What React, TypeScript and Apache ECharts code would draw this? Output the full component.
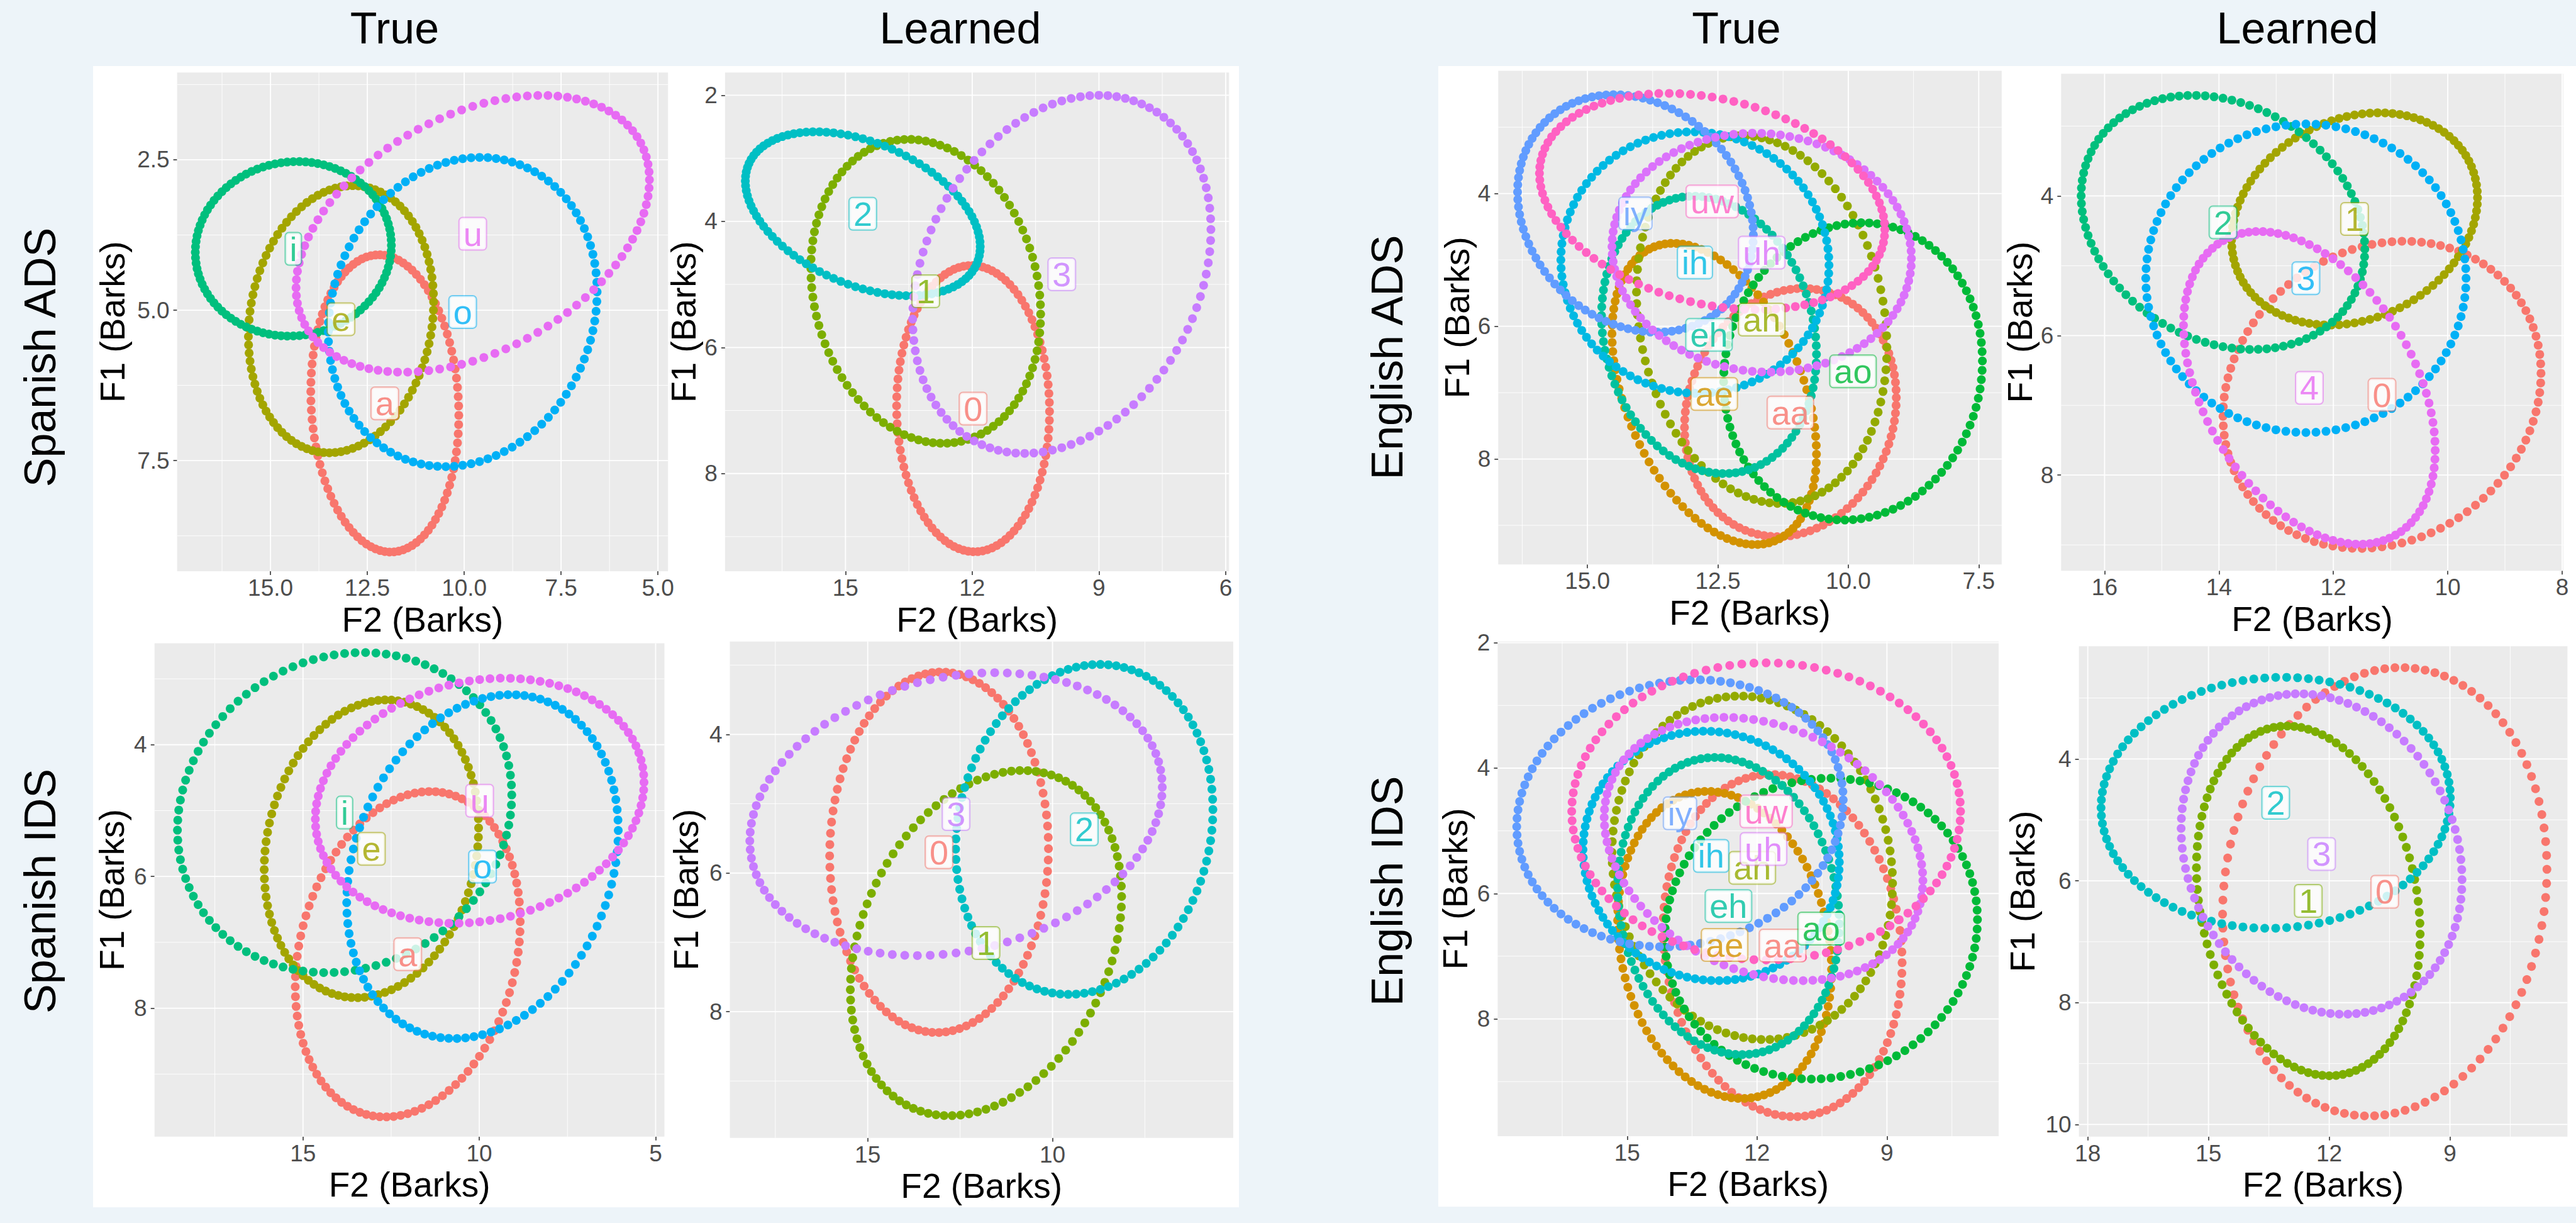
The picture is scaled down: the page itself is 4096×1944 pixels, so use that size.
import React, { useEffect, useRef } from "react";
import * as echarts from "echarts";

// ---------- colours (ggplot2 default hues) ----------
const PAL4 = ["#F8766D", "#7CAE00", "#00BFC4", "#C77CFF"];
const PAL5 = ["#F8766D", "#A3A500", "#00BF7D", "#00B0F6", "#E76BF3"];
const PAL9 = ["#F8766D", "#D39200", "#93AA00", "#00BA38", "#00C19F", "#00B9E3", "#619CFF", "#DB72FB", "#FF61C3"];

// ---------- ellipses: [label, F2 mean, F1 mean, F2 half-range, F1 half-range, correlation] ----------
const SPANISH_ADS_TRUE = [
  ["a", 12.05, 6.55, 1.91, 2.47, -0.08],
  ["e", 13.18, 5.15, 2.39, 2.22, 0.13],
  ["i", 14.41, 3.98, 2.53, 1.45, 0.04],
  ["o", 10.04, 5.03, 3.47, 2.57, 0.13],
  ["u", 9.78, 3.73, 4.56, 2.30, 0.39],
];
const SPANISH_ADS_LEARNED = [
  ["0", 11.98, 6.97, 1.81, 2.27, -0.02],
  ["1", 13.10, 5.11, 2.72, 2.41, -0.15],
  ["2", 14.59, 3.88, 2.78, 1.30, -0.40],
  ["3", 9.88, 4.84, 3.53, 2.84, 0.25],
];
const SPANISH_IDS_TRUE = [
  ["a", 12.03, 7.18, 3.19, 2.47, 0.20],
  ["e", 13.06, 5.58, 3.04, 2.26, 0.14],
  ["i", 13.82, 5.03, 4.74, 2.43, 0.11],
  ["o", 9.91, 5.85, 3.85, 2.61, 0.21],
  ["u", 9.99, 4.85, 4.66, 1.86, 0.15],
];
const SPANISH_IDS_LEARNED = [
  ["0", 13.07, 5.70, 2.96, 2.60, 0.02],
  ["1", 11.80, 7.01, 3.67, 2.49, 0.27],
  ["2", 9.14, 5.37, 3.48, 2.38, 0.12],
  ["3", 12.61, 5.15, 5.58, 2.04, 0.19],
];
const ENGLISH_ADS_TRUE = [
  ["aa", 11.11, 7.30, 2.03, 1.87, 0.12],
  ["ae", 12.57, 7.02, 1.96, 2.27, -0.40],
  ["ah", 11.66, 5.90, 2.40, 2.77, -0.15],
  ["ao", 9.91, 6.68, 2.48, 2.24, 0.07],
  ["eh", 12.67, 6.13, 2.06, 2.09, -0.14],
  ["ih", 12.94, 5.04, 2.57, 1.97, -0.02],
  ["iy", 14.08, 4.30, 2.26, 1.79, -0.18],
  ["uh", 11.66, 4.89, 2.87, 1.80, -0.05],
  ["uw", 12.61, 4.12, 3.31, 1.63, -0.26],
];
const ENGLISH_ADS_LEARNED = [
  ["0", 11.15, 6.85, 2.78, 2.20, 0.14],
  ["1", 11.63, 4.33, 2.15, 1.52, 0.20],
  ["2", 13.93, 4.38, 2.48, 1.82, -0.21],
  ["3", 12.48, 5.18, 2.80, 2.21, 0.0],
  ["4", 12.42, 6.75, 2.20, 2.24, -0.40],
];
const ENGLISH_IDS_TRUE = [
  ["aa", 11.41, 6.83, 2.76, 2.73, -0.10],
  ["ae", 12.75, 6.82, 2.47, 2.45, -0.16],
  ["ah", 12.11, 5.59, 3.24, 2.74, -0.09],
  ["ao", 10.52, 6.56, 3.61, 2.40, 0.06],
  ["eh", 12.66, 6.20, 2.56, 2.37, -0.12],
  ["ih", 13.06, 5.40, 2.96, 1.99, -0.05],
  ["iy", 13.78, 4.72, 3.77, 2.13, 0.10],
  ["uh", 11.85, 5.29, 3.68, 2.10, -0.24],
  ["uw", 11.79, 4.69, 4.49, 2.37, 0.0],
];
const ENGLISH_IDS_LEARNED = [
  ["0", 10.62, 6.18, 4.03, 3.68, 0.10],
  ["1", 12.52, 6.33, 2.78, 2.87, -0.19],
  ["2", 13.33, 4.72, 4.34, 2.06, 0.04],
  ["3", 12.19, 5.56, 3.49, 2.63, -0.16],
];

// ---------- axes: ranges, tick labels, minor grid values ----------
const X_RANGES = [[4.74, 17.41], [5.92, 17.85], [4.75, 19.21], [5.11, 18.73], [7.06, 16.71], [7.98, 16.76], [6.42, 17.99], [6.08, 18.22]];
const Y_RANGES = [[1.05, 9.34], [1.64, 9.55], [2.46, 9.95], [2.66, 9.82], [2.15, 9.59], [2.25, 9.37], [1.98, 9.87], [2.15, 10.2]];
const X_TICK_LABELS = [
  ["15.0", "12.5", "10.0", "7.5", "5.0"],
  ["15", "12", "9", "6"],
  ["15", "10", "5"],
  ["15", "10"],
  ["15.0", "12.5", "10.0", "7.5"],
  ["16", "14", "12", "10", "8"],
  ["15", "12", "9"],
  ["18", "15", "12", "9"],
];
const Y_TICK_LABELS = [
  ["2.5", "5.0", "7.5"],
  ["2", "4", "6", "8"],
  ["4", "6", "8"],
  ["4", "6", "8"],
  ["4", "6", "8"],
  ["4", "6", "8"],
  ["2", "4", "6", "8"],
  ["4", "6", "8", "10"],
];
const X_MINOR = [
  [16.25, 13.75, 11.25, 8.75, 6.25],
  [16.5, 13.5, 10.5, 7.5],
  [17.5, 12.5, 7.5],
  [17.5, 12.5, 7.5],
  [16.25, 13.75, 11.25, 8.75],
  [15, 13, 11, 9],
  [16.5, 13.5, 10.5, 7.5],
  [16.5, 13.5, 10.5, 7.5],
];
const Y_MINOR = [
  [1.25, 3.75, 6.25, 8.75],
  [3, 5, 7, 9],
  [3, 5, 7, 9],
  [3, 5, 7, 9],
  [3, 5, 7, 9],
  [3, 5, 7, 9],
  [3, 5, 7, 9],
  [3, 5, 7, 9],
];

const PANEL_ELLIPSES = [SPANISH_ADS_TRUE, SPANISH_ADS_LEARNED, SPANISH_IDS_TRUE, SPANISH_IDS_LEARNED, ENGLISH_ADS_TRUE, ENGLISH_ADS_LEARNED, ENGLISH_IDS_TRUE, ENGLISH_IDS_LEARNED];
const PANEL_PALETTES = [PAL5, PAL4, PAL5, PAL4, PAL9, PAL5, PAL9, PAL4];

const COLUMN_TITLES = ["True", "Learned", "True", "Learned"];
const ROW_TITLES = ["Spanish ADS", "Spanish IDS", "English ADS", "English IDS"];

// ---------- layout (window pixels) ----------
const LAYOUT = [
  { left: 281.6, top: 115.3, width: 780.6, height: 792.8 },
  { left: 1152.9, top: 115.3, width: 801.4, height: 792.8 },
  { left: 245.7, top: 1022.5, width: 810.8, height: 784.3 },
  { left: 1160.5, top: 1019.7, width: 800.4, height: 789.0 },
  { left: 2382.3, top: 112.5, width: 800.5, height: 784.8 },
  { left: 3277.3, top: 117.2, width: 798.5, height: 790.0 },
  { left: 2381.4, top: 1019.7, width: 796.6, height: 786.2 },
  { left: 3305.6, top: 1027.2, width: 776.8, height: 779.6 },
];
const Y_NAME_GAP = [75, 38, 40, 42, 38, 38, 40, 62];
const COL_TITLE_X = [627.5, 1527, 2761, 3653];
const ROW_TITLE_POS = [[63.5, 568], [63.5, 1416.5], [2205.6, 568], [2205.6, 1416.5]];

const FONT = "'Liberation Sans', Arial, Helvetica, sans-serif";
const BG = "#EDF4F9";

function hexA(hex: string, a: number) {
  const n = parseInt(hex.slice(1), 16);
  return `rgba(${(n >> 16) & 255},${(n >> 8) & 255},${n & 255},${a})`;
}

function ellipsePoints(cx: number, cy: number, rx: number, ry: number, rho: number, n: number) {
  const s = Math.sqrt(1 - rho * rho);
  const pts: number[][] = [];
  for (let k = 0; k < n; k++) {
    const t = (2 * Math.PI * k) / n;
    pts.push([cx + rx * Math.cos(t), cy + ry * (rho * Math.cos(t) + s * Math.sin(t))]);
  }
  return pts;
}

export default function App() {
  const ref = useRef<HTMLDivElement>(null);

  useEffect(() => {
    if (!ref.current) return;
    const chart = echarts.init(ref.current, null, { renderer: "svg" });

    const grids: any[] = [];
    const xAxes: any[] = [];
    const yAxes: any[] = [];
    const series: any[] = [];

    PANEL_ELLIPSES.forEach((ellipses: any[], i: number) => {
      const L = LAYOUT[i];
      const pal = PANEL_PALETTES[i];
      const xr = X_RANGES[i];
      const yr = Y_RANGES[i];
      const xLab = X_TICK_LABELS[i];
      const yLab = Y_TICK_LABELS[i];
      const xVals = xLab.map(Number);
      const yVals = yLab.map(Number);

      grids.push({
        left: L.left, top: L.top, width: L.width, height: L.height,
        show: true, backgroundColor: "#EBEBEB", borderWidth: 0,
        containLabel: false, outerBoundsMode: "none",
      });

      const fmt = (vals: number[], labs: string[]) => (v: number) => {
        const idx = vals.findIndex((t) => Math.abs(t - v) < 1e-6);
        return idx >= 0 ? labs[idx] : "";
      };

      xAxes.push({
        type: "value", gridIndex: i, min: xr[0], max: xr[1], inverse: true,
        name: "F2 (Barks)", nameLocation: "middle", nameGap: 49, nameMoveOverlap: false,
        nameTextStyle: { fontSize: 55, color: "#000000", fontFamily: FONT },
        axisLine: { show: false },
        axisTick: { show: true, customValues: xVals, length: 6, lineStyle: { color: "#333333", width: 1.6 } },
        axisLabel: { show: true, customValues: xVals, formatter: fmt(xVals, xLab), fontSize: 37, color: "#4D4D4D", margin: 8, fontFamily: FONT },
        splitLine: { show: false },
        minorTick: { show: false },
        minorSplitLine: { show: false },
      });
      yAxes.push({
        type: "value", gridIndex: i, min: yr[0], max: yr[1], inverse: true,
        name: "F1 (Barks)", nameLocation: "middle", nameGap: Y_NAME_GAP[i], nameMoveOverlap: false,
        nameTextStyle: { fontSize: 55, color: "#000000", fontFamily: FONT },
        axisLine: { show: false },
        axisTick: { show: true, customValues: yVals, length: 6, lineStyle: { color: "#333333", width: 1.6 } },
        axisLabel: { show: true, customValues: yVals, formatter: fmt(yVals, yLab), fontSize: 37, color: "#4D4D4D", margin: 12, fontFamily: FONT },
        splitLine: { show: false },
        minorTick: { show: false },
        minorSplitLine: { show: false },
      });

      // grid lines through the axes' scales
      const gridData: number[][] = [
        ...xVals.map((v) => [v, 0, 1]),
        ...X_MINOR[i].map((v) => [v, 0, 0]),
        ...yVals.map((v) => [v, 1, 1]),
        ...Y_MINOR[i].map((v) => [v, 1, 0]),
      ];
      series.push({
        type: "custom", xAxisIndex: i, yAxisIndex: i, z: 1, silent: true,
        data: gridData,
        renderItem: (params: any, api: any) => {
          const v = api.value(0);
          const isY = api.value(1) === 1;
          const major = api.value(2) === 1;
          const a = isY ? api.coord([xr[0], v]) : api.coord([v, yr[0]]);
          const b = isY ? api.coord([xr[1], v]) : api.coord([v, yr[1]]);
          return {
            type: "line",
            shape: { x1: a[0], y1: a[1], x2: b[0], y2: b[1] },
            style: { stroke: "#FFFFFF", lineWidth: major ? 1.8 : 0.9 },
          };
        },
      });

      ellipses.forEach((e: any[], k: number) => {
        series.push({
          type: "scatter", xAxisIndex: i, yAxisIndex: i, z: 2, silent: true,
          symbol: "circle", symbolSize: 14,
          itemStyle: { color: pal[k], opacity: 1 },
          data: ellipsePoints(e[1], e[2], e[3], e[4], e[5], 100),
        });
      });

      series.push({
        type: "scatter", xAxisIndex: i, yAxisIndex: i, z: 5, silent: true,
        symbol: "circle", symbolSize: 1,
        itemStyle: { color: "rgba(0,0,0,0)" },
        label: {
          show: true, position: "inside", formatter: "{b}",
          fontSize: 54, fontFamily: FONT, lineHeight: 44,
          backgroundColor: "#FFFFFF", borderWidth: 2, borderRadius: 5,
          padding: [4, 6, 2, 6],
        },
        data: ellipses.map((e: any[], k: number) => ({
          name: e[0],
          value: [e[1], e[2]],
          label: { color: pal[k], borderColor: hexA(pal[k], 0.65) },
        })),
      });
    });

    const graphics: any[] = [
      { type: "rect", z: -10, silent: true, shape: { x: 148, y: 105, width: 1822, height: 1814 }, style: { fill: "#FFFFFF" } },
      { type: "rect", z: -10, silent: true, shape: { x: 2287, y: 105, width: 1809, height: 1813 }, style: { fill: "#FFFFFF" } },
    ];
    COLUMN_TITLES.forEach((t, j) => {
      graphics.push({
        type: "text", z: 10, x: COL_TITLE_X[j], y: 45, silent: true,
        style: { text: t, fontSize: 70, fontFamily: FONT, fill: "#000000", align: "center", verticalAlign: "middle", textAlign: "center", textVerticalAlign: "middle" },
      });
    });
    ROW_TITLES.forEach((t, j) => {
      graphics.push({
        type: "text", z: 10, x: ROW_TITLE_POS[j][0], y: ROW_TITLE_POS[j][1], rotation: Math.PI / 2, silent: true,
        style: { text: t, fontSize: 70, fontFamily: FONT, fill: "#000000", align: "center", verticalAlign: "middle", textAlign: "center", textVerticalAlign: "middle" },
      });
    });

    chart.setOption({
      animation: false,
      backgroundColor: BG,
      textStyle: { fontFamily: FONT },
      grid: grids,
      xAxis: xAxes,
      yAxis: yAxes,
      series,
      graphic: { elements: graphics },
    });

    return () => chart.dispose();
  }, []);

  return <div ref={ref} style={{ position: "fixed", left: 0, top: 0, width: 4096, height: 1944 }} />;
}
